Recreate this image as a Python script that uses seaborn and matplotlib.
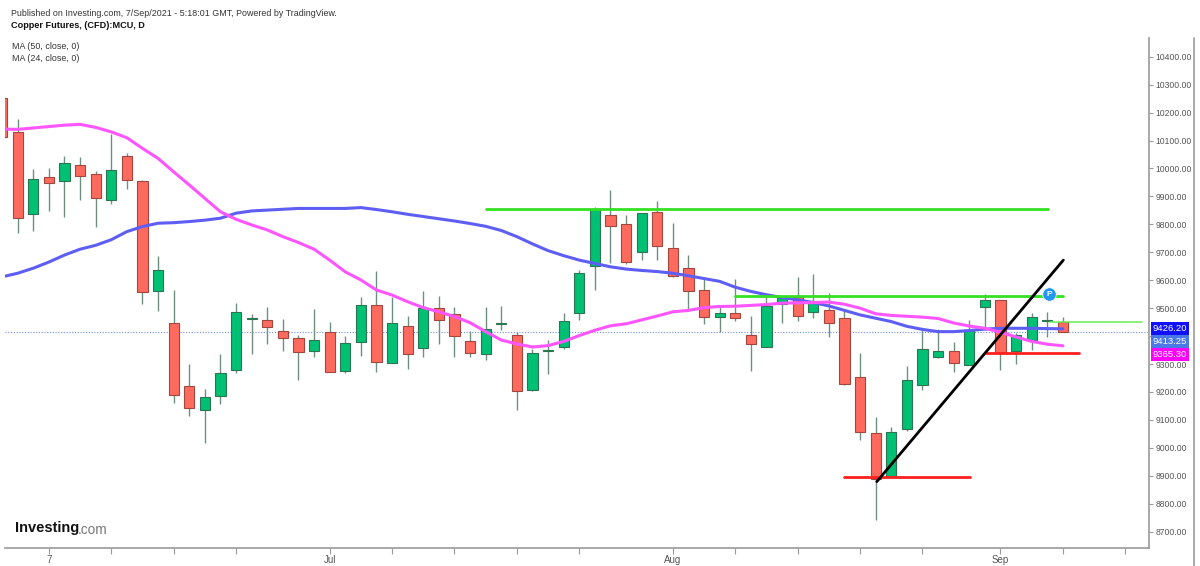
import numpy as np
import pandas as pd
import matplotlib
matplotlib.use("Agg")
import matplotlib.pyplot as plt
import seaborn as sns
from matplotlib.lines import Line2D

# trading days, Aug 30 (UK bank holiday) is not in the feed
dates = pd.bdate_range("2021-06-02", "2021-09-07")
dates = dates[dates != pd.Timestamp("2021-08-30")]

opens = [10251, 10129, 9837, 9969, 9954, 10014, 9981, 9887, 10044, 9955,
         9563, 9446, 9222, 9136, 9186, 9279, 9462, 9459, 9418, 9393,
         9346, 9414, 9276, 9380, 9510, 9303, 9437, 9359, 9500, 9478,
         9381, 9335, 9444, 9404, 9206, 9348, 9360, 9482, 9652, 9832,
         9800, 9701, 9843, 9714, 9644, 9565, 9470, 9482, 9403, 9362,
         9516, 9541, 9485, 9492, 9464, 9254, 9054, 8899, 9068, 9226,
         9326, 9346, 9298, 9504, 9528, 9347, 9387, 9454, 9452]
highs = [10255, 10177, 9997, 10003, 10046, 10041, 9991, 10122, 10056, 9959,
         9687, 9564, 9300, 9210, 9336, 9520, 9479, 9503, 9462, 9404,
         9496, 9449, 9400, 9539, 9634, 9540, 9471, 9562, 9544, 9504,
         9419, 9505, 9508, 9414, 9353, 9386, 9482, 9637, 9861, 9923,
         9834, 9841, 9884, 9806, 9690, 9603, 9512, 9604, 9473, 9551,
         9544, 9611, 9621, 9553, 9490, 9339, 9109, 9074, 9294, 9429,
         9424, 9379, 9458, 9550, 9530, 9412, 9482, 9487, 9470]
lows = [10110, 9768, 9777, 9849, 9827, 9887, 9792, 9872, 9928, 9515,
        9491, 9160, 9114, 9016, 9158, 9269, 9335, 9372, 9347, 9243,
        9326, 9270, 9269, 9330, 9273, 9302, 9281, 9325, 9371, 9326,
        9325, 9314, 9422, 9136, 9205, 9263, 9354, 9458, 9565, 9661,
        9658, 9671, 9674, 9612, 9491, 9443, 9416, 9454, 9275, 9360,
        9446, 9454, 9464, 9398, 9225, 9028, 8742, 8897, 9060, 9208,
        9321, 9273, 9297, 9422, 9279, 9301, 9350, 9396, 9413]
closes = [10114, 9824, 9961, 9948, 10020, 9972, 9893, 9996, 9958, 9557,
          9636, 9188, 9144, 9183, 9268, 9486, 9465, 9434, 9392, 9343,
          9387, 9271, 9375, 9510, 9308, 9446, 9335, 9500, 9458, 9399,
          9339, 9425, 9446, 9203, 9341, 9351, 9454, 9627, 9854, 9793,
          9665, 9841, 9721, 9615, 9560, 9470, 9483, 9466, 9371, 9509,
          9535, 9471, 9527, 9446, 9228, 9057, 8888, 9057, 9244, 9355,
          9347, 9303, 9422, 9528, 9341, 9404, 9470, 9455, 9413.25]

ma50 = [9612, 9625, 9643, 9665, 9690, 9711, 9725, 9745, 9774, 9792,
        9804, 9806, 9810, 9815, 9822, 9840, 9848, 9851, 9854, 9857,
        9857, 9857, 9857, 9860, 9853, 9845, 9836, 9828, 9820, 9812,
        9803, 9793, 9778, 9756, 9730, 9706, 9688, 9672, 9660, 9648,
        9640, 9635, 9631, 9625, 9616, 9606, 9596, 9575, 9560, 9548,
        9538, 9530, 9520, 9508, 9492, 9476, 9464, 9452, 9435, 9424,
        9416, 9416, 9420, 9425, 9428, 9428, 9428, 9427, 9426.2]
ma24 = [10141, 10140, 10145, 10150, 10155, 10158, 10147, 10131, 10110, 10072,
        10036, 9988, 9941, 9893, 9845, 9818, 9798, 9780, 9756, 9735,
        9711, 9672, 9630, 9601, 9565, 9547, 9523, 9502, 9487, 9470,
        9448, 9416, 9386, 9372, 9361, 9366, 9381, 9402, 9421, 9437,
        9444, 9458, 9472, 9487, 9492, 9502, 9506, 9507, 9510, 9513,
        9518, 9519, 9520, 9522, 9514, 9500, 9480, 9474, 9471, 9468,
        9463, 9447, 9436, 9428, 9414, 9397, 9381, 9371, 9365.3]

# axis ticks (bar index) and labels
tick_idx = [3, 7, 11, 15, 21, 25, 29, 33, 37, 43, 47, 51, 55, 59, 64, 68, 72]
tick_lbl = {3: "7", 21: "Jul", 43: "Aug", 64: "Sep"}
price_ticks = list(range(8700, 10401, 100))
hidden_price = [9400]  # covered by the last value tags

# hand drawn lines on the chart: (x0, x1, level)
green_levels = [(31.0, 67.05, 9854), (47.0, 68.0, 9543.5)]
red_levels = [(54.0, 62.05, 8897), (63.05, 69.05, 9338)]
trend = [(56.07, 8879), (68.03, 9672)]
light_green = (67.2, 73.05, 9451.6)

df = pd.DataFrame({"date": dates, "open": opens, "high": highs,
                   "low": lows, "close": closes, "ma50": ma50, "ma24": ma24})
df["idx"] = np.arange(len(df))

sns.set_style("white")
plt.rcParams["font.family"] = ["Liberation Sans", "DejaVu Sans"]

fig = plt.figure(figsize=(12, 5.66), dpi=100)
ax = fig.add_axes([5 / 1200, 1 - 548 / 566, 1144 / 1200, 510 / 566])

up = df["close"] >= df["open"]
body_lo = df[["open", "close"]].min(axis=1)
body_h = (df["close"] - df["open"]).abs()

ax.vlines(df["idx"], df["low"], df["high"], color="#6f8f80", lw=1, zorder=2)
ax.bar(df["idx"][up], body_h[up].clip(lower=3), bottom=body_lo[up], width=0.65,
       color="#00c074", edgecolor="#2c7552", lw=0.8, zorder=3)
ax.bar(df["idx"][~up], body_h[~up].clip(lower=3), bottom=body_lo[~up], width=0.65,
       color="#ff6a5e", edgecolor="#a0473f", lw=0.8, zorder=3)

sns.lineplot(data=df, x="idx", y="ma50", ax=ax, color="#5e5ef5", lw=2.2, zorder=4)
sns.lineplot(data=df, x="idx", y="ma24", ax=ax, color="#ff55ff", lw=2.2, zorder=4)

ax.axhline(closes[-1], color="#6d8ff2", lw=0.8, ls=(0, (1, 1.5)), zorder=1)

for x0, x1, lvl in green_levels:
    ax.plot([x0, x1], [lvl, lvl], color="#33e022", lw=2, zorder=5)
for x0, x1, lvl in red_levels:
    ax.plot([x0, x1], [lvl, lvl], color="#ff1f1f", lw=2, zorder=5)
ax.plot([light_green[0], light_green[1]], [light_green[2]] * 2, color="#66ee55", lw=1.1, zorder=5)
ax.plot([trend[0][0], trend[1][0]], [trend[0][1], trend[1][1]], color="black", lw=2, zorder=5)

ax.scatter([67.1], [9549.6], s=95, color="#2196f3", edgecolor="white", lw=0.6, zorder=6)
ax.text(67.1, 9549.6, "P", color="white", fontsize=6, fontweight="bold",
        ha="center", va="center", zorder=7)

ax.set_xlim(0.19, 73.52)
ax.set_ylim(8641.6, 10467)
ax.set_xticks(tick_idx)
ax.set_xticklabels([tick_lbl.get(t, "") for t in tick_idx])
ax.set_yticks(price_ticks)
ax.set_yticklabels(["" if p in hidden_price else "%.2f" % p for p in price_ticks])
ax.yaxis.tick_right()
ax.set_xlabel("")
ax.set_ylabel("")
ax.tick_params(axis="x", direction="out", length=4, width=0.8, color="#999999",
               labelsize=7, labelcolor="#555555", pad=1, bottom=True)
ax.tick_params(axis="y", direction="out", length=3, width=0.8, color="#999999",
               labelsize=6.2, labelcolor="#555555", pad=1.5, right=True, left=False)
for s in ["left", "top"]:
    ax.spines[s].set_visible(False)
for s in ["bottom", "right"]:
    ax.spines[s].set_color("#9a9a9a")
    ax.spines[s].set_linewidth(1.2)

# last value tags on the price scale
tags = [("9426.20", ma50[-1], "#1010ff"), ("9413.25", closes[-1], "#4a78e6"),
        ("9365.30", ma24[-1], "#ff00ff")]
for k, (txt, val, col) in enumerate(tags):
    ax.annotate(txt, xy=(1, tags[0][1]), xycoords=ax.get_yaxis_transform(),
                xytext=(2.5, -k * 9.3), textcoords="offset points",
                ha="left", va="center", fontsize=6.8, color="white",
                bbox=dict(boxstyle="square,pad=0.2", fc=col, ec="none"),
                annotation_clip=False, zorder=10)

fig.add_artist(Line2D([1194 / 1200, 1194 / 1200], [0, 1 - 38 / 566],
                      color="#9a9a9a", lw=1.2))

fig.text(11 / 1200, 1 - 14 / 566, "Published on Investing.com, 7/Sep/2021 - 5:18:01 GMT, Powered by TradingView.",
         fontsize=6.4, color="#333333", va="center")
fig.text(11 / 1200, 1 - 26 / 566, "Copper Futures, (CFD):MCU, D", fontsize=6.6,
         fontweight="bold", color="#111111", va="center")
fig.text(12 / 1200, 1 - 46.5 / 566, "MA (50, close, 0)", fontsize=6.4, color="#333333", va="center")
fig.text(12 / 1200, 1 - 58 / 566, "MA (24, close, 0)", fontsize=6.4, color="#333333", va="center")

fig.text(15 / 1200, 1 - 528 / 566, "Investing", fontsize=10.5, fontweight="bold",
         color="#111111", va="center")
fig.text(78 / 1200, 1 - 530 / 566, ".com", fontsize=9.8, color="#777777", va="center")

fig.savefig("out.png", dpi=100)
